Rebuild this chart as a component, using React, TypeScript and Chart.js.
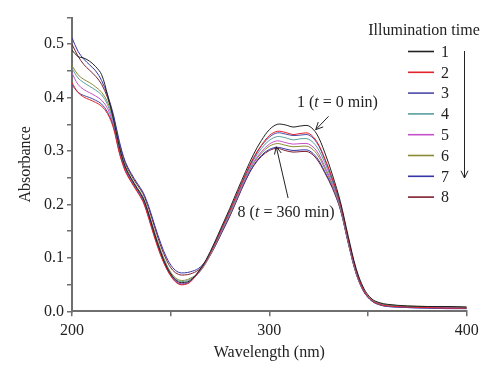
import React, { useEffect, useRef } from 'react';
import { Chart, registerables } from 'chart.js';

Chart.register(...registerables);

const wavelengths = [200, 203, 206, 209, 212, 215, 218, 221, 224, 227, 230, 233, 236, 239, 242, 245, 248, 251, 254, 257, 260, 264, 268, 272, 276, 280, 284, 288, 292, 296, 300, 304, 308, 312, 316, 320, 324, 328, 332, 336, 340, 344, 348, 352, 356, 360, 370, 380, 390, 400];

const series1 = [0.489, 0.477, 0.474, 0.468, 0.458, 0.443, 0.405, 0.36, 0.308, 0.27, 0.248, 0.23, 0.212, 0.18, 0.143, 0.11, 0.083, 0.065, 0.055, 0.054, 0.058, 0.074, 0.097, 0.127, 0.16, 0.193, 0.228, 0.262, 0.294, 0.32, 0.34, 0.35, 0.349, 0.345, 0.347, 0.347, 0.332, 0.298, 0.255, 0.205, 0.14, 0.08, 0.042, 0.023, 0.016, 0.013, 0.01, 0.009, 0.009, 0.008];
const series2 = [0.428, 0.41, 0.401, 0.396, 0.391, 0.384, 0.37, 0.343, 0.296, 0.262, 0.242, 0.224, 0.205, 0.172, 0.136, 0.104, 0.079, 0.061, 0.051, 0.05, 0.055, 0.073, 0.095, 0.124, 0.157, 0.189, 0.223, 0.257, 0.288, 0.311, 0.329, 0.337, 0.335, 0.331, 0.333, 0.333, 0.318, 0.287, 0.248, 0.201, 0.136, 0.077, 0.038, 0.02, 0.013, 0.01, 0.008, 0.007, 0.006, 0.006];
const series3 = [0.424, 0.41, 0.404, 0.4, 0.395, 0.388, 0.373, 0.346, 0.298, 0.264, 0.243, 0.226, 0.207, 0.175, 0.138, 0.106, 0.08, 0.062, 0.052, 0.051, 0.056, 0.073, 0.095, 0.124, 0.156, 0.188, 0.222, 0.256, 0.286, 0.31, 0.326, 0.334, 0.332, 0.329, 0.33, 0.33, 0.316, 0.285, 0.246, 0.2, 0.135, 0.076, 0.037, 0.019, 0.012, 0.009, 0.007, 0.006, 0.006, 0.005];
const series4 = [0.455, 0.437, 0.428, 0.421, 0.414, 0.405, 0.387, 0.355, 0.305, 0.269, 0.248, 0.23, 0.212, 0.18, 0.144, 0.111, 0.085, 0.066, 0.057, 0.056, 0.06, 0.072, 0.093, 0.122, 0.154, 0.185, 0.22, 0.253, 0.283, 0.305, 0.32, 0.327, 0.325, 0.321, 0.323, 0.322, 0.308, 0.279, 0.242, 0.197, 0.133, 0.075, 0.038, 0.021, 0.014, 0.011, 0.009, 0.008, 0.008, 0.007];
const series5 = [0.446, 0.425, 0.415, 0.409, 0.403, 0.395, 0.38, 0.35, 0.301, 0.266, 0.245, 0.228, 0.209, 0.177, 0.14, 0.108, 0.082, 0.064, 0.053, 0.052, 0.057, 0.071, 0.092, 0.121, 0.152, 0.183, 0.217, 0.25, 0.279, 0.299, 0.313, 0.319, 0.316, 0.313, 0.314, 0.313, 0.3, 0.272, 0.238, 0.195, 0.131, 0.073, 0.037, 0.02, 0.013, 0.01, 0.008, 0.007, 0.007, 0.006];
const series6 = [0.46, 0.443, 0.434, 0.428, 0.42, 0.41, 0.392, 0.358, 0.308, 0.272, 0.25, 0.232, 0.214, 0.183, 0.147, 0.114, 0.087, 0.068, 0.059, 0.058, 0.062, 0.071, 0.091, 0.12, 0.151, 0.181, 0.215, 0.249, 0.277, 0.296, 0.309, 0.314, 0.311, 0.308, 0.309, 0.308, 0.295, 0.268, 0.235, 0.193, 0.13, 0.072, 0.037, 0.021, 0.015, 0.012, 0.01, 0.009, 0.008, 0.008];
const series7 = [0.512, 0.487, 0.472, 0.461, 0.45, 0.432, 0.405, 0.368, 0.318, 0.28, 0.258, 0.24, 0.223, 0.195, 0.16, 0.127, 0.1, 0.082, 0.073, 0.072, 0.074, 0.08, 0.095, 0.119, 0.149, 0.179, 0.213, 0.246, 0.273, 0.292, 0.303, 0.307, 0.304, 0.301, 0.302, 0.301, 0.288, 0.262, 0.232, 0.191, 0.128, 0.071, 0.036, 0.019, 0.012, 0.009, 0.007, 0.006, 0.005, 0.005];
const series8 = [0.5, 0.478, 0.462, 0.451, 0.44, 0.425, 0.4, 0.364, 0.314, 0.277, 0.255, 0.237, 0.22, 0.191, 0.156, 0.122, 0.095, 0.077, 0.069, 0.068, 0.07, 0.077, 0.093, 0.118, 0.148, 0.178, 0.212, 0.245, 0.272, 0.29, 0.301, 0.305, 0.301, 0.298, 0.299, 0.298, 0.285, 0.26, 0.23, 0.19, 0.127, 0.07, 0.036, 0.02, 0.014, 0.011, 0.009, 0.008, 0.008, 0.007];

const seriesLabels = ['1', '2', '3', '4', '5', '6', '7', '8'];
const seriesValues = [series1, series2, series3, series4, series5, series6, series7, series8];
const seriesColors = ['#222222', '#e3242b', '#4b4ba8', '#5a9e9e', '#c552c8', '#8a8a35', '#3535a8', '#7d1f2e'];

const legendTitle = 'Illumination time';
const xTitle = 'Wavelength (nm)';
const yTitle = 'Absorbance';

const FONT = '"Liberation Serif", "Times New Roman", serif';

function drawArrow(ctx: CanvasRenderingContext2D, x1: number, y1: number, x2: number, y2: number) {
  const ang = Math.atan2(y2 - y1, x2 - x1);
  const head = 8;
  const spread = Math.PI / 7;
  ctx.beginPath();
  ctx.moveTo(x1, y1);
  ctx.lineTo(x2, y2);
  ctx.moveTo(x2 - head * Math.cos(ang - spread), y2 - head * Math.sin(ang - spread));
  ctx.lineTo(x2, y2);
  ctx.lineTo(x2 - head * Math.cos(ang + spread), y2 - head * Math.sin(ang + spread));
  ctx.stroke();
}

function drawMixed(ctx: CanvasRenderingContext2D, parts: [string, boolean][], cx: number, cy: number) {
  const widths = parts.map(([t, it]) => {
    ctx.font = `${it ? 'italic ' : ''}16px ${FONT}`;
    return ctx.measureText(t).width;
  });
  const total = widths.reduce((a, b) => a + b, 0);
  let x = cx - total / 2;
  ctx.textAlign = 'left';
  ctx.textBaseline = 'middle';
  parts.forEach(([t, it], i) => {
    ctx.font = `${it ? 'italic ' : ''}16px ${FONT}`;
    ctx.fillText(t, x, cy);
    x += widths[i];
  });
}

const overlayPlugin = {
  id: 'overlay',
  afterDraw(chart: any) {
    const ctx = chart.ctx as CanvasRenderingContext2D;
    const xs = chart.scales.x;
    const ys = chart.scales.y;
    ctx.save();
    ctx.fillStyle = '#222';
    ctx.strokeStyle = '#222';
    ctx.lineWidth = 1;

    // legend
    ctx.font = `16px ${FONT}`;
    ctx.textAlign = 'center';
    ctx.textBaseline = 'middle';
    ctx.fillText(legendTitle, 424, 31);
    seriesLabels.forEach((lab, i) => {
      const y = 51.5 + i * 20.8;
      ctx.strokeStyle = seriesColors[i];
      ctx.lineWidth = 1.6;
      ctx.beginPath();
      ctx.moveTo(408, y);
      ctx.lineTo(434, y);
      ctx.stroke();
      ctx.fillStyle = '#222';
      ctx.font = `16px ${FONT}`;
      ctx.textAlign = 'left';
      ctx.fillText(lab, 441, y + 1);
    });
    ctx.strokeStyle = '#222';
    ctx.lineWidth = 1;
    drawArrow(ctx, 464.5, 51, 464.5, 178);

    // annotation 1
    const a1x = xs.getPixelForValue(334.5);
    const a1y = ys.getPixelForValue(0.39);
    drawMixed(ctx, [['1 (', false], ['t', true], [' = 0 min)', false]], a1x, a1y);
    drawArrow(ctx, xs.getPixelForValue(330), ys.getPixelForValue(0.365), xs.getPixelForValue(323.5), ys.getPixelForValue(0.34));

    // annotation 8
    const a8x = xs.getPixelForValue(308.5);
    const a8y = ys.getPixelForValue(0.184);
    drawMixed(ctx, [['8 (', false], ['t', true], [' = 360 min)', false]], a8x, a8y);
    drawArrow(ctx, xs.getPixelForValue(309.5), ys.getPixelForValue(0.212), xs.getPixelForValue(303.5), ys.getPixelForValue(0.308));

    ctx.restore();
  },
};

export default function App() {
  const ref = useRef<HTMLCanvasElement | null>(null);
  useEffect(() => {
    if (!ref.current) return;
    const chart = new Chart(ref.current, {
      type: 'line',
      data: {
        datasets: seriesValues.map((vals, i) => ({
          label: seriesLabels[i],
          data: wavelengths.map((w, j) => ({ x: w, y: vals[j] })),
          borderColor: seriesColors[i],
          backgroundColor: seriesColors[i],
          borderWidth: 1,
          pointRadius: 0,
          tension: 0.35,
          fill: false,
        })),
      },
      options: {
        responsive: false,
        animation: false,
        events: [],
        layout: { padding: { top: 17.5, right: 33.3, left: 0, bottom: 0 } },
        plugins: { legend: { display: false }, tooltip: { enabled: false } },
        scales: {
          x: {
            type: 'linear',
            min: 200,
            max: 400,
            afterFit: (s: any) => { s.height = 69.7; },
            ticks: {
              stepSize: 50,
              autoSkip: false,
              maxRotation: 0,
              padding: 5,
              color: '#222',
              font: { family: FONT, size: 16 },
              callback: (v: any) => (Number(v) % 100 === 0 ? String(v) : ''),
            },
            grid: { drawOnChartArea: false, drawTicks: true, tickLength: 5, color: '#6f6f6f', lineWidth: 1.5 },
            border: { display: true, color: '#6f6f6f', width: 2 },
            title: { display: true, text: xTitle, color: '#222', font: { family: FONT, size: 16 }, padding: { top: 0, bottom: 18.4 } },
          },
          y: {
            type: 'linear',
            min: 0,
            max: 0.55,
            afterFit: (s: any) => { s.width = 72; },
            ticks: {
              stepSize: 0.05,
              autoSkip: false,
              padding: 3,
              color: '#222',
              font: { family: FONT, size: 16 },
              callback: (v: any) => {
                const n = Math.round(Number(v) * 100);
                return n % 10 === 0 ? (n / 100).toFixed(1) : '';
              },
            },
            grid: { drawOnChartArea: false, drawTicks: true, tickLength: 5, color: '#6f6f6f', lineWidth: 1.5 },
            border: { display: true, color: '#6f6f6f', width: 2 },
            title: { display: true, text: yTitle, color: '#222', font: { family: FONT, size: 16 }, padding: { top: 16.4, bottom: 0 } },
          },
        },
      },
      plugins: [overlayPlugin],
    });
    return () => chart.destroy();
  }, []);
  return (
    <div style={{ position: 'absolute', left: 0, top: 0, width: 500, height: 381, background: '#fff' }}>
      <canvas ref={ref} width={500} height={381} />
    </div>
  );
}
